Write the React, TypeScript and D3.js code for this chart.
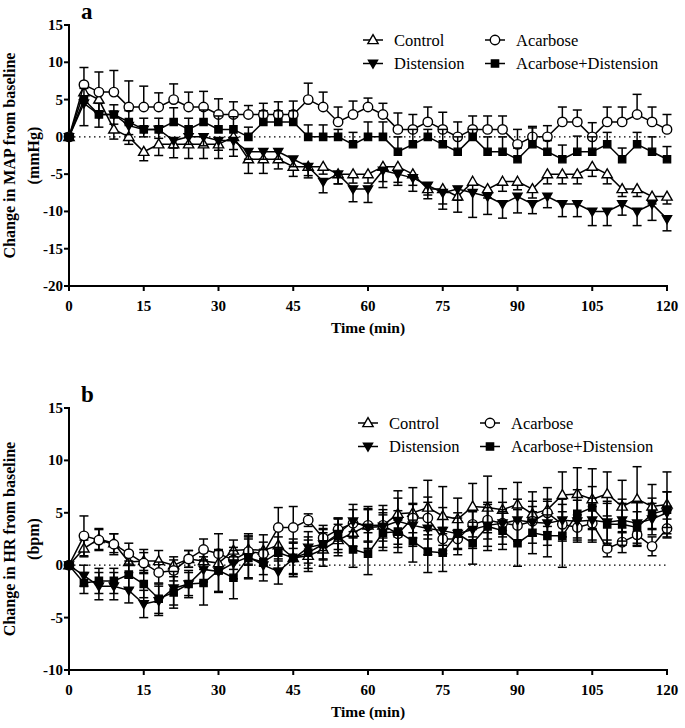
import React from 'react';
import * as d3 from 'd3';

const times = [0,3,6,9,12,15,18,21,24,27,30,33,36,39,42,45,48,51,54,57,60,63,66,69,72,75,78,81,84,87,90,93,96,99,102,105,108,111,114,117,120];
const xTicks = [0,15,30,45,60,75,90,105,120];
const mapTicks = [-20,-15,-10,-5,0,5,10,15];
const hrTicks = [-10,-5,0,5,10,15];

// Panel a: MAP
const mapControl = [0,6,5,1,0,-2,-1,-1,-1,-1,-1,0,-3,-3,-3,-4,-4,-4,-5,-5,-5,-4,-4,-5,-7,-7,-8,-6,-7,-6,-6,-7,-5,-5,-5,-4,-5,-7,-7,-8,-8];
const mapControlErr = [0,1.5,1.5,1.3,1.0,1.2,1.5,1.8,1.9,1.9,1.9,2.6,1.9,1.9,1.3,1.3,1.5,1.0,1.3,1.2,1.2,2.8,2.1,1.5,1.3,2.7,2.1,1.3,1.2,1.3,1.1,1.2,1.3,1.3,1.3,1.3,1.3,1.0,1.0,1.0,1.0];
const mapAcarbose = [0,7,6,6,4,4,4,5,4,4,3,3,3,3,3,3,5,4,2,3,4,3,1,1,2,1,0,1,1,1,-1,0,0,2,2,0,2,2,3,2,1];
const mapAcarboseErr = [0,2.3,2.7,2.9,3.5,2.8,1.9,2.1,2.0,2.1,2.1,1.7,1.2,1.5,1.7,1.8,2.2,2.0,2.0,1.8,1.2,1.5,2.2,2.0,2.0,2.3,2.0,1.8,1.8,1.8,2.0,1.4,1.5,2.0,1.6,1.9,2.0,2.0,2.7,2.0,2.0];
const mapDistension = [0,4.5,3,3,1.5,1,1,-0.5,0,0,-0.5,-0.5,-2,-2,-2,-3,-4,-6,-5,-7,-7,-4.5,-5,-5.5,-6.5,-7.5,-7,-7.5,-8,-9,-8,-9,-8,-9,-9,-10,-10,-9,-10,-9,-11];
const mapDistensionErr = [0,3.0,1.7,1.3,1.2,1.0,1.2,1.0,1.0,1.2,1.3,1.2,1.0,1.0,1.0,1.0,1.2,1.5,1.3,1.7,1.8,1.5,1.5,1.8,1.3,1.5,1.5,3.3,2.4,1.9,2.2,1.3,1.5,1.7,1.7,1.9,1.9,1.5,1.9,2.2,1.6];
const mapAcDist = [0,5,3,3,2,1,1,2,1,2,1,1,0,2,2,2,0,0,0,-1,0,0,-2,-1,0,-1,-2,0,-2,-2,-3,-1,-2,-3,-2,-2,-1,-3,-1,-2,-3];
const mapAcDistErr = [0,1.5,1.5,1.3,1.5,1.5,1.5,1.9,1.5,1.6,1.8,1.7,1.3,1.5,1.5,1.5,1.6,1.6,1.0,1.6,2.0,2.0,2.0,2.0,1.0,2.0,2.0,1.0,2.0,2.0,1.5,2.2,1.5,1.9,2.1,2.0,1.6,1.5,1.6,2.0,1.7];

// Panel b: HR
const hrControl = [0,1.6,2.5,2.1,0.3,0.4,0.4,0.0,0.6,0.4,0.2,1.4,1.5,1.4,1.9,0.7,0.9,1.5,2.4,3.1,3.8,3.8,4.9,5.0,5.5,4.7,4.4,5.6,5.5,5.3,5.8,4.9,5.3,6.7,6.8,6.3,6.8,5.6,6.3,5.6,5.8];
const hrControlErr = [0,0.8,1.0,0.9,1.0,1.1,1.0,0.8,0.8,0.8,1.0,1.0,1.5,1.5,1.5,1.8,1.5,1.6,1.5,1.3,1.6,1.5,2.2,2.4,2.6,2.8,2.0,2.2,3.0,2.0,2.1,2.1,2.1,2.2,2.5,2.9,2.1,2.5,3.1,2.1,3.1];
const hrAcarbose = [0,2.8,2.4,2.0,1.1,0.2,-0.7,-0.5,0.6,1.5,1.1,0.5,1.3,1.1,3.6,3.6,4.3,2.6,3.4,4.0,3.8,3.8,3.0,4.5,4.5,2.5,2.5,3.9,4.3,4.0,3.8,4.2,5.0,3.9,3.6,4.0,1.6,2.2,2.9,1.8,3.5];
const hrAcarboseErr = [0,1.9,1.0,1.0,1.0,1.0,1.0,1.0,0.8,1.0,1.9,0.9,1.2,1.1,1.9,2.0,0.6,1.2,1.1,1.3,1.5,1.2,1.3,1.4,2.0,1.1,0.9,1.2,1.2,1.3,1.5,1.4,1.3,1.2,1.2,1.6,0.8,1.0,1.1,0.9,0.9];
const hrDistension = [0,-1.0,-2.0,-2.0,-2.4,-3.7,-3.4,-2.2,-1.8,-0.4,-0.6,0.2,0.8,0.0,-0.6,0.6,1.7,2.0,3.0,4.2,3.6,3.7,4.2,3.8,3.5,3.3,3.0,3.4,3.8,4.0,4.3,4.1,4.0,4.3,4.2,4.3,4.1,4.3,4.0,4.4,5.0];
const hrDistensionErr = [0,1.0,1.3,1.3,1.2,1.3,1.4,1.6,1.3,1.2,2.0,1.5,2.0,1.5,1.2,1.5,1.5,1.4,1.5,1.6,2.0,2.0,2.2,2.0,2.5,2.2,2.0,1.8,2.0,2.0,2.0,2.0,2.1,2.0,2.0,2.1,2.0,2.0,2.1,1.5,2.0];
const hrAcDist = [0,-1.7,-1.5,-1.5,-0.9,-1.8,-3.2,-2.6,-1.8,-1.7,-0.5,-1.2,0.7,0.3,1.2,0.7,1.2,2.0,2.8,1.5,1.1,3.1,3.2,2.3,1.3,1.2,3.0,2.1,3.7,3.3,2.1,3.1,2.8,2.8,4.9,5.5,3.9,3.9,3.6,4.9,5.3];
const hrAcDistErr = [0,1.0,1.2,1.2,1.3,1.3,1.4,1.5,1.1,2.1,2.0,2.0,2.0,1.2,1.5,1.5,1.5,1.5,1.6,1.7,2.0,1.7,2.0,2.0,2.0,1.8,1.5,2.0,2.3,1.8,2.2,2.0,2.0,3.0,2.3,2.0,2.0,2.0,1.5,1.5,1.7];

type Sym = 'triUp' | 'triDown' | 'circle' | 'square';
type Dir = 'up' | 'down' | 'both';
interface Series { name: string; sym: Sym; values: number[]; err: number[]; dir: Dir; }

const FONT = "'Liberation Serif', 'Times New Roman', serif";

function symbolPath(sym: Sym): string {
  if (sym === 'circle') return d3.symbol(d3.symbolCircle, 70)() as string;
  if (sym === 'square') return d3.symbol(d3.symbolSquare, 52)() as string;
  if (sym === 'triDown') return d3.symbol(d3.symbolTriangle, 36)() as string;
  return d3.symbol(d3.symbolTriangle, 46)() as string;
}

function Marker({ sym, x, y }: { sym: Sym; x: number; y: number }) {
  const open = sym === 'triUp' || sym === 'circle';
  const rot = sym === 'triDown' ? ' rotate(180)' : '';
  const dy = sym === 'triUp' ? 0.6 : sym === 'triDown' ? -0.6 : 0;
  return (
    <path
      d={symbolPath(sym)}
      transform={`translate(${x},${y + dy})${rot}`}
      fill={open ? '#fff' : '#000'}
      stroke="#000"
      strokeWidth={1.4}
    />
  );
}

interface PanelProps {
  series: Series[];
  yDomain: [number, number];
  yTicks: number[];
  top: number;
  bottom: number;
  label: string;
  ytitle1: string;
  ytitle2: string;
  legendY: number;
  legendX1: number;
  legendX2: number;
}

function Panel(p: PanelProps) {
  const x = d3.scaleLinear().domain([0, 120]).range([69, 667]);
  const y = d3.scaleLinear().domain(p.yDomain).range([p.bottom, p.top]);
  const line = d3.line<number>().x((_, i) => x(times[i])).y((v) => y(v));
  const cap = 4.5;
  const midY = (p.top + p.bottom) / 2;
  const legendOrder = [
    [p.series[0], p.legendX1, p.legendY],
    [p.series[1], p.legendX2, p.legendY],
    [p.series[2], p.legendX1, p.legendY + 23.5],
    [p.series[3], p.legendX2, p.legendY + 23.5],
  ] as [Series, number, number][];
  return (
    <g>
      <text x={81} y={p.top - 6} fontFamily={FONT} fontWeight="bold" fontSize={23}>{p.label}</text>
      {/* y title */}
      <g transform={`translate(22,${midY}) rotate(-90)`}>
        <text x={0} y={-7} textAnchor="middle" fontFamily={FONT} fontWeight="bold" fontSize={16}>{p.ytitle1}</text>
        <text x={0} y={17} textAnchor="middle" fontFamily={FONT} fontWeight="bold" fontSize={16}>{p.ytitle2}</text>
      </g>
      {/* zero dotted line */}
      <line x1={x(0)} x2={x(120)} y1={y(0)} y2={y(0)} stroke="#000" strokeWidth={1.3} strokeDasharray="1.5,3.5" />
      {/* axes */}
      <line x1={x(0)} x2={x(0)} y1={p.top - 1} y2={p.bottom + 1} stroke="#000" strokeWidth={2} />
      <line x1={x(0) - 1} x2={x(120) + 1} y1={p.bottom} y2={p.bottom} stroke="#000" strokeWidth={2} />
      {p.yTicks.map((t) => (
        <g key={'y' + t}>
          <line x1={x(0) - 5} x2={x(0)} y1={y(t)} y2={y(t)} stroke="#000" strokeWidth={2} />
          <text x={x(0) - 6} y={y(t) + 5} textAnchor="end" fontFamily={FONT} fontWeight="bold" fontSize={15}>{t}</text>
        </g>
      ))}
      {xTicks.map((t) => (
        <g key={'x' + t}>
          <line x1={x(t)} x2={x(t)} y1={p.bottom} y2={p.bottom + 5} stroke="#000" strokeWidth={2} />
          <text x={x(t)} y={p.bottom + 25} textAnchor="middle" fontFamily={FONT} fontWeight="bold" fontSize={15}>{t}</text>
        </g>
      ))}
      <text x={368} y={p.bottom + 47} textAnchor="middle" fontFamily={FONT} fontWeight="bold" fontSize={15.5}>Time (min)</text>
      {/* series */}
      {p.series.map((s) => (
        <g key={s.name}>
          {s.values.map((v, i) => {
            const e = s.err[i];
            if (!e) return null;
            const cx = x(times[i]);
            const y1 = s.dir === 'down' ? y(v) : y(v + e);
            const y2 = s.dir === 'up' ? y(v) : y(v - e);
            return (
              <g key={i}>
                <line x1={cx} x2={cx} y1={y1} y2={y2} stroke="#000" strokeWidth={1.5} />
                {s.dir !== 'down' && <line x1={cx - cap} x2={cx + cap} y1={y(v + e)} y2={y(v + e)} stroke="#000" strokeWidth={1.5} />}
                {s.dir !== 'up' && <line x1={cx - cap} x2={cx + cap} y1={y(v - e)} y2={y(v - e)} stroke="#000" strokeWidth={1.5} />}
              </g>
            );
          })}
          <path d={line(s.values) as string} fill="none" stroke="#000" strokeWidth={1.5} />
          {s.values.map((v, i) => (
            <Marker key={i} sym={s.sym} x={x(times[i])} y={y(v)} />
          ))}
        </g>
      ))}
      {/* legend */}
      {legendOrder.map(([s, lx, ly]) => (
        <g key={'leg' + s.name}>
          <line x1={lx} x2={lx + 20} y1={ly} y2={ly} stroke="#000" strokeWidth={1.5} />
          <Marker sym={s.sym} x={lx + 10} y={ly} />
          <text x={lx + 31} y={ly + 5.5} fontFamily={FONT} fontSize={16.5}>{s.name}</text>
        </g>
      ))}
    </g>
  );
}

export default function App() {
  const seriesA: Series[] = [
    { name: 'Control', sym: 'triUp', values: mapControl, err: mapControlErr, dir: 'down' },
    { name: 'Acarbose', sym: 'circle', values: mapAcarbose, err: mapAcarboseErr, dir: 'up' },
    { name: 'Distension', sym: 'triDown', values: mapDistension, err: mapDistensionErr, dir: 'down' },
    { name: 'Acarbose+Distension', sym: 'square', values: mapAcDist, err: mapAcDistErr, dir: 'up' },
  ];
  const seriesB: Series[] = [
    { name: 'Control', sym: 'triUp', values: hrControl, err: hrControlErr, dir: 'both' },
    { name: 'Acarbose', sym: 'circle', values: hrAcarbose, err: hrAcarboseErr, dir: 'both' },
    { name: 'Distension', sym: 'triDown', values: hrDistension, err: hrDistensionErr, dir: 'both' },
    { name: 'Acarbose+Distension', sym: 'square', values: hrAcDist, err: hrAcDistErr, dir: 'both' },
  ];
  return (
    <svg width={685} height={728} style={{ position: 'absolute', left: 0, top: 0, background: '#fff' }}>
      <rect x={0} y={0} width={685} height={728} fill="#fff" />
      <Panel series={seriesA} yDomain={[-20, 15]} yTicks={mapTicks} top={25} bottom={286} label="a"
        ytitle1="Change in MAP from baseline" ytitle2="(mmHg)" legendY={40} legendX1={363} legendX2={485} />
      <Panel series={seriesB} yDomain={[-10, 15]} yTicks={hrTicks} top={408} bottom={670} label="b"
        ytitle1="Change in HR from baseline" ytitle2="(bpm)" legendY={423} legendX1={358} legendX2={480} />
    </svg>
  );
}
